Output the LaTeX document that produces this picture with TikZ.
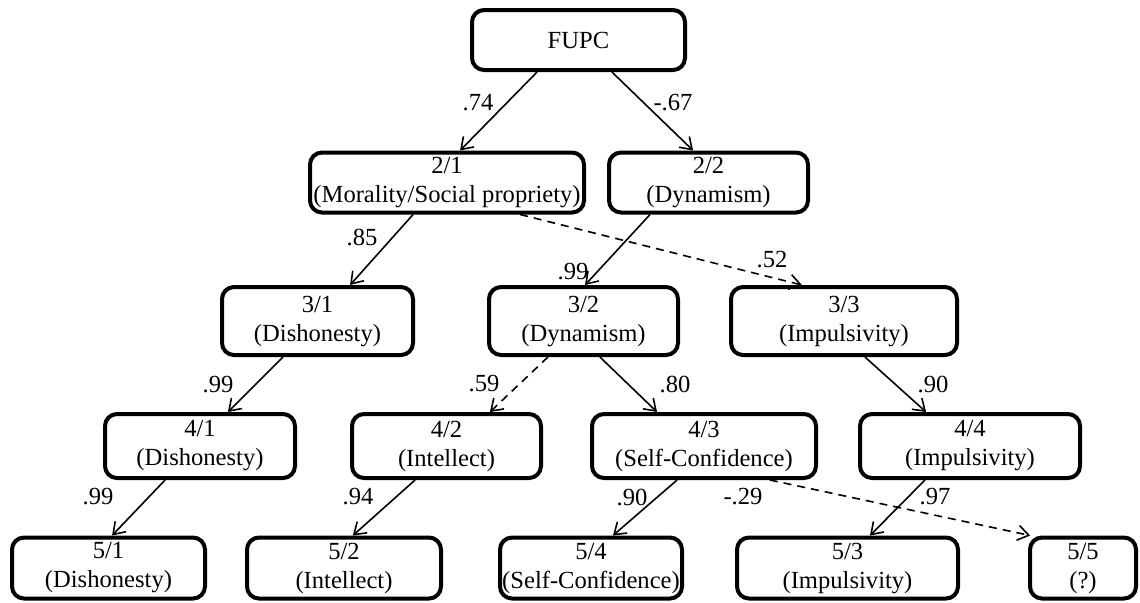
\documentclass[tikz,border=0pt]{standalone}
\usepackage{fontspec}
\setmainfont{Liberation Serif}
\usetikzlibrary{arrows.meta,calc}
\begin{document}
\begin{tikzpicture}[x=0.5pt,y=-0.5pt,
  box/.style={draw, line width=2pt, rounded corners=6pt, align=center, inner sep=0pt,
              font=\fontsize{12.3}{14.5}\selectfont},
  lbl/.style={inner sep=0pt, font=\fontsize{12.3}{14.5}\selectfont},
  conn/.style={line width=0.8pt, -{Straight Barb[length=5.5pt,width=7.5pt,line width=0.8pt]}},
  dconn/.style={conn, dash pattern=on 4pt off 3pt}]
\useasboundingbox (0,0) rectangle (1140,602);

% level 1
\node[box, minimum width=106.5pt, minimum height=30pt] (fupc) at (578.5,40) {FUPC};
% level 2
\node[box, minimum width=137pt, minimum height=30pt] (n21) at (447,182.5) {2/1\\(Morality/Social propriety)};
\node[box, minimum width=99.5pt, minimum height=30pt] (n22) at (708.5,182.5) {2/2\\(Dynamism)};
% level 3
\node[box, minimum width=95.5pt, minimum height=34pt] (n31) at (317.5,321) {3/1\\(Dishonesty)};
\node[box, minimum width=94.5pt, minimum height=34pt] (n32) at (583.5,321) {3/2\\(Dynamism)};
\node[box, minimum width=113pt, minimum height=34pt] (n33) at (844,321) {3/3\\(Impulsivity)};
% level 4
\node[box, minimum width=95pt, minimum height=32pt] (n41) at (200,446) {4/1\\(Dishonesty)};
\node[box, minimum width=94.5pt, minimum height=32pt] (n42) at (446.5,446) {4/2\\(Intellect)};
\node[box, minimum width=112pt, minimum height=32pt] (n43) at (704,446) {4/3\\(Self-Confidence)};
\node[box, minimum width=110pt, minimum height=32pt] (n44) at (970,446) {4/4\\(Impulsivity)};
% level 5
\node[box, minimum width=96.5pt, minimum height=30.5pt] (n51) at (108.5,568) {5/1\\(Dishonesty)};
\node[box, minimum width=97pt, minimum height=30.5pt] (n52) at (344,568) {5/2\\(Intellect)};
\node[box, minimum width=91pt, minimum height=30.5pt] (n54) at (591,568) {5/4\\(Self-Confidence)};
\node[box, minimum width=110.5pt, minimum height=30.5pt] (n53) at (847.5,568) {5/3\\(Impulsivity)};
\node[box, minimum width=53pt, minimum height=30.5pt] (n55) at (1083,568) {5/5\\(?)};

% connectors
\draw[conn] ($(fupc.south west)!0.309!(fupc.south east)$) -- ($(n21.north west)!0.547!(n21.north east)$);
\draw[conn] ($(fupc.south west)!0.654!(fupc.south east)$) -- ($(n22.north west)!0.424!(n22.north east)$);
\draw[conn] ($(n21.south west)!0.378!(n21.south east)$) -- ($(n31.north west)!0.667!(n31.north east)$);
\draw[dconn] ($(n21.south west)!0.763!(n21.south east)$) -- ($(n33.north west)!0.317!(n33.north east)$);
\draw[conn] ($(n22.south west)!0.212!(n22.south east)$) -- ($(n32.north west)!0.508!(n32.north east)$);
\draw[conn] ($(n31.south west)!0.323!(n31.south east)$) -- ($(n41.north west)!0.644!(n41.north east)$);
\draw[dconn] ($(n32.south west)!0.316!(n32.south east)$) -- ($(n42.north west)!0.725!(n42.north east)$);
\draw[conn] ($(n32.south west)!0.585!(n32.south east)$) -- ($(n43.north west)!0.294!(n43.north east)$);
\draw[conn] ($(n33.south west)!0.591!(n33.south east)$) -- ($(n44.north west)!0.304!(n44.north east)$);
\draw[conn] ($(n41.south west)!0.320!(n41.south east)$) -- ($(n51.north west)!0.518!(n51.north east)$);
\draw[conn] ($(n42.south west)!0.337!(n42.south east)$) -- ($(n52.north west)!0.545!(n52.north east)$);
\draw[conn] ($(n43.south west)!0.382!(n43.south east)$) -- ($(n54.north west)!0.618!(n54.north east)$);
\draw[dconn] ($(n43.south west)!0.789!(n43.south east)$) -- ($(n55.north west)!0.02!(n55.north east)$);
\draw[conn] ($(n44.south west)!0.299!(n44.south east)$) -- ($(n53.north west)!0.6!(n53.north east)$);

% labels
\node[lbl] (l1) at (478,103) {.74};
\node[lbl] (l2) at (673,103) {-.67};
\node[lbl] (l3) at (362,237) {.85};
\node[lbl] (l4) at (772,260) {.52};
\node[lbl] (l5) at (573,272) {.99};
\node[lbl] (l6) at (218,385) {.99};
\node[lbl] (l7) at (484,384) {.59};
\node[lbl] (l8) at (675,384) {.80};
\node[lbl] (l9) at (933,384) {.90};
\node[lbl] (l10) at (98,497) {.99};
\node[lbl] (l11) at (358,497) {.94};
\node[lbl] (l12) at (632,497) {.90};
\node[lbl] (l13) at (743,497) {-.29};
\node[lbl] (l14) at (935,497) {.97};
\end{tikzpicture}
\end{document}
